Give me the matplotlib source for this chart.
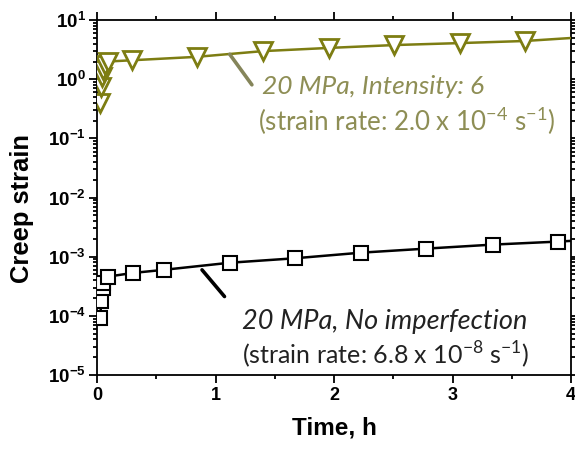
import math
import matplotlib
matplotlib.use("Agg")
import matplotlib.pyplot as plt
from matplotlib.ticker import FixedLocator, FuncFormatter, LogLocator, NullFormatter

plt.rcParams['font.family'] = ['Liberation Sans', 'DejaVu Sans']
plt.rcParams['mathtext.fontset'] = 'custom'
plt.rcParams['mathtext.rm'] = 'Liberation Sans'
plt.rcParams['mathtext.bf'] = 'Liberation Sans:bold'
plt.rcParams['mathtext.it'] = 'Liberation Sans:italic'

# creep curve, 20 MPa with imperfection intensity 6
t_int6 = [0.02, 0.03, 0.04, 0.05, 0.07, 0.09, 0.29, 0.84, 1.40, 1.96, 2.51, 3.06, 3.61, 4.0]
e_int6 = [0.40, 0.75, 1.10, 1.45, 1.75, 2.00, 2.10, 2.40, 3.0, 3.4, 3.8, 4.1, 4.45, 5.0]
m_int6 = list(range(len(t_int6) - 1))  # last point is line end only

# creep curve, 20 MPa without imperfection
t_none = [0.025, 0.035, 0.045, 0.05, 0.09, 0.30, 0.565, 1.12, 1.67, 2.23, 2.78, 3.34, 3.89, 4.0]
e_none = [9.3e-5, 1.8e-4, 2.9e-4, 3.6e-4, 4.6e-4, 5.3e-4, 6.0e-4, 7.9e-4, 9.4e-4, 1.17e-3, 1.37e-3, 1.6e-3, 1.8e-3, 1.85e-3]
m_none = list(range(len(t_none) - 1))

olive = '#7d7d12'
olive_txt = '#8e8e55'

fig = plt.figure(figsize=(5.75, 4.49), dpi=100)
ax = fig.add_axes([0.169, 0.165, 0.824, 0.790])

ax.plot(t_int6, e_int6, '-', color=olive, lw=1.8, marker='v', markersize=13.5,
        markerfacecolor='white', markeredgecolor=olive, markeredgewidth=2.0,
        markevery=m_int6, zorder=3)
ax.plot(t_none, e_none, '-', color='black', lw=1.8, marker='s', markersize=9.5,
        markerfacecolor='white', markeredgecolor='black', markeredgewidth=1.5,
        markevery=m_none, zorder=3)

ax.set_yscale('log')
ax.set_xlim(0, 4)
ax.set_ylim(1e-5, 1e1)

ax.xaxis.set_major_locator(FixedLocator([0, 1, 2, 3, 4]))
ax.xaxis.set_minor_locator(FixedLocator([0.5, 1.5, 2.5, 3.5]))
ax.yaxis.set_major_locator(LogLocator(base=10, numticks=10))
ax.yaxis.set_minor_locator(LogLocator(base=10, subs=range(2, 10), numticks=20))
ax.yaxis.set_minor_formatter(NullFormatter())
ax.yaxis.set_major_formatter(FuncFormatter(
    lambda v, p: r'$\mathbf{10^{%d}}$' % round(math.log10(v))))

ax.tick_params(which='both', direction='out', top=True, right=True, width=1.3)
ax.tick_params(which='major', length=6)
ax.tick_params(which='minor', length=3)
ax.tick_params(axis='x', labelsize=13, pad=3)
ax.tick_params(axis='y', labelsize=13.5, pad=2)
for lab in ax.get_xticklabels():
    lab.set_fontweight('bold')
for s in ax.spines.values():
    s.set_linewidth(1.3)

ax.set_xlabel('Time, h', fontsize=17.5, fontweight='bold', labelpad=9)
ax.set_ylabel('Creep strain', fontsize=18.4, fontweight='bold', labelpad=10)
ax.yaxis.label.set_y(0.47)

# leader lines and labels
ax.annotate('', xy=(1.105, 2.9), xytext=(1.32, 0.74),
            arrowprops=dict(arrowstyle='-', color='#85855a', lw=2.6))
ax.annotate('', xy=(0.87, 6.5e-4), xytext=(1.09, 1.95e-4),
            arrowprops=dict(arrowstyle='-', color='black', lw=2.6))

tfont = ['Lato', 'DejaVu Sans']
ax.text(1.39, 0.75, '20 MPa, Intensity: 6', color=olive_txt, fontsize=19,
        style='italic', family=tfont, ha='left', va='center')
ax.text(1.36, 0.20, r'(strain rate: 2.0 x 10$^{\mathregular{-4}}$ s$^{\mathregular{-1}}$)',
        color=olive_txt, fontsize=18.6, family=tfont, ha='left', va='center')
ax.text(1.22, 8.1e-5, '20 MPa, No imperfection', color='#222222', fontsize=19.5,
        style='italic', family=tfont, ha='left', va='center')
ax.text(1.22, 2.2e-5, r'(strain rate: 6.8 x 10$^{\mathregular{-8}}$ s$^{\mathregular{-1}}$)',
        color='#222222', fontsize=18, family=tfont, ha='left', va='center')

fig.savefig('out.png', dpi=100)
